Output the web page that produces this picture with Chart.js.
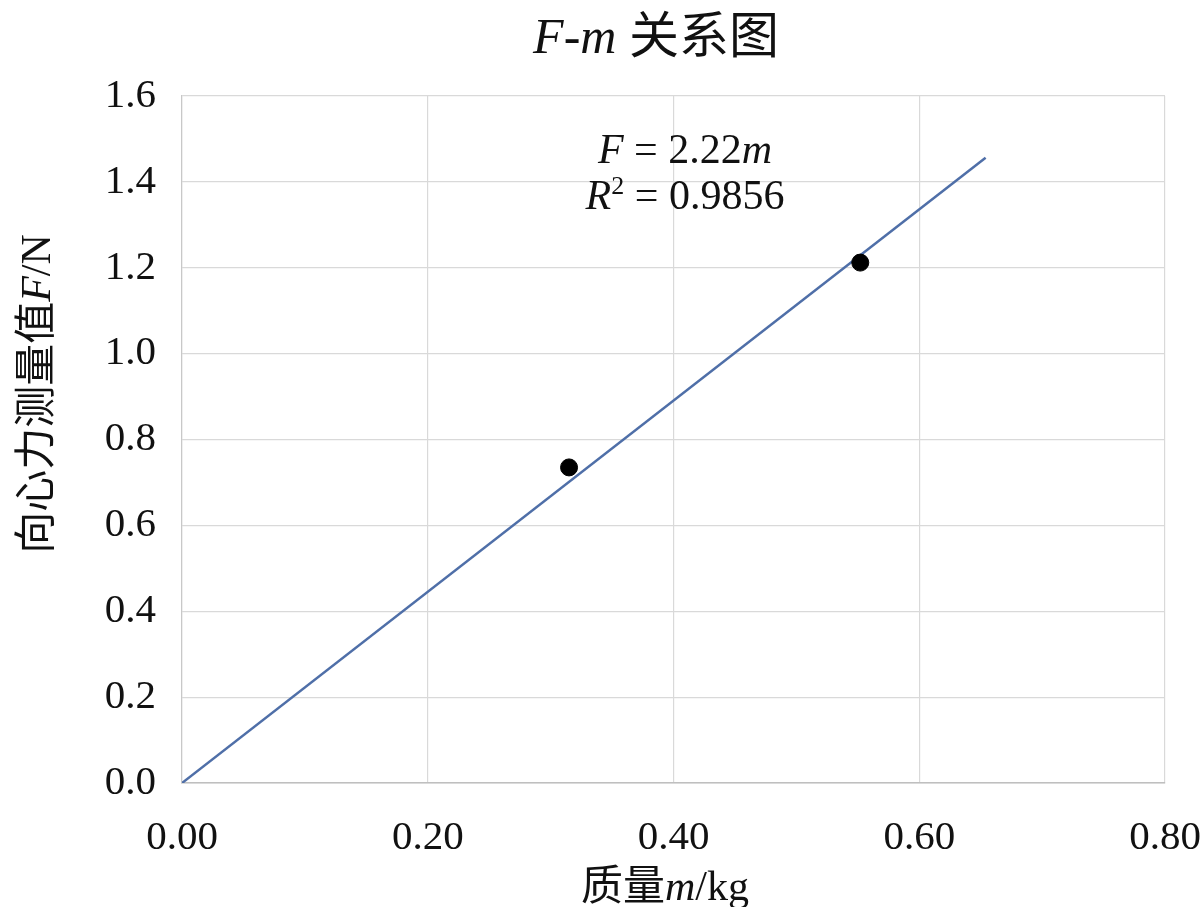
<!DOCTYPE html>
<html lang="zh">
<head>
  <meta charset="UTF-8">
  <title>F-m 关系图</title>
  <script src="https://cdn.jsdelivr.net/npm/chart.js"></script>
  <style>
    html, body { margin: 0; padding: 0; background: #fff; }
    .wrap { width: 1202px; height: 907px; position: relative; }
  </style>
</head>
<body>
  <div class="wrap"><canvas id="fmChart"></canvas></div>

  <script>
    // measured points (mass in kg, force in N)
    const massM = [0.315, 0.552];
    const forceF = [0.735, 1.212];
    // fitted trend line F = 2.22m, ends
    const trendM = [0, 0.654];
    const trendF = [0, 1.456];

    const xTicks = [0.0, 0.2, 0.4, 0.6, 0.8];
    const yTicks = [0.0, 0.2, 0.4, 0.6, 0.8, 1.0, 1.2, 1.4, 1.6];

    // text runs: n = normal, i = italic, sup = superscript
    const chartTitle = [['F-m', 'i'], [' 关系图', 'n']];
    const xTitle = [['质量', 'n'], ['m', 'i'], ['/kg', 'n']];
    const yTitle = [['向心力测量值', 'n'], ['F', 'i'], ['/N', 'n']];
    const eqLine1 = [['F', 'i'], [' = 2.22', 'n'], ['m', 'i']];
    const eqLine2 = [['R', 'i'], ['2', 'sup'], [' = 0.9856', 'n']];

    const FONT = '"Liberation Serif", "Noto Sans CJK SC", serif';

    function runFont(style, size) {
      if (style === 'i') return 'italic ' + size + 'px ' + FONT;
      if (style === 'sup') return Math.round(size * 0.62) + 'px ' + FONT;
      return size + 'px ' + FONT;
    }

    // draw a row of mixed-style text centred on cx, baseline at y
    function drawRuns(ctx, runs, cx, y, size) {
      let total = 0;
      const widths = runs.map(r => {
        ctx.font = runFont(r[1], size);
        const w = ctx.measureText(r[0]).width;
        total += w;
        return w;
      });
      let x = cx - total / 2;
      runs.forEach((r, i) => {
        ctx.font = runFont(r[1], size);
        const dy = r[1] === 'sup' ? -size * 0.36 : 0;
        ctx.fillText(r[0], x, y + dy);
        x += widths[i];
      });
    }

    const textPlugin = {
      id: 'mixedText',
      afterDraw(chart) {
        const ctx = chart.ctx;
        ctx.save();
        ctx.fillStyle = '#111';
        ctx.textAlign = 'left';
        ctx.textBaseline = 'alphabetic';

        drawRuns(ctx, chartTitle, 656, 53, 50);
        drawRuns(ctx, eqLine1, 685, 163, 42);
        drawRuns(ctx, eqLine2, 685, 209, 42);
        drawRuns(ctx, xTitle, 665, 900, 42);

        ctx.translate(50, 394);
        ctx.rotate(-Math.PI / 2);
        drawRuns(ctx, yTitle, 0, 0, 42);
        ctx.restore();
      }
    };

    const tickFont = { family: FONT, size: 41 };

    new Chart(document.getElementById('fmChart'), {
      type: 'scatter',
      data: {
        datasets: [
          {
            label: '测量值',
            data: massM.map((m, i) => ({ x: m, y: forceF[i] })),
            backgroundColor: '#000',
            borderColor: '#000',
            pointRadius: 8.5,
            order: 1
          },
          {
            label: '线性拟合',
            data: trendM.map((m, i) => ({ x: m, y: trendF[i] })),
            showLine: true,
            borderColor: '#4f6fa8',
            borderWidth: 2.5,
            pointRadius: 0,
            order: 2
          }
        ]
      },
      options: {
        responsive: true,
        maintainAspectRatio: false,
        animation: false,
        layout: { padding: { top: 96, right: 37, left: 0, bottom: 0 } },
        plugins: {
          legend: { display: false },
          tooltip: { enabled: false },
          title: { display: false }
        },
        scales: {
          x: {
            type: 'linear',
            min: 0, max: 0.8,
            afterBuildTicks: s => { s.ticks = xTicks.map(v => ({ value: v })); },
            afterFit: s => { s.height = 124; s.paddingLeft = 0; s.paddingRight = 0; },
            grid: { color: '#d9d9d9', lineWidth: 1.2, drawTicks: false },
            border: { color: '#bfbfbf', width: 1.5 },
            ticks: {
              font: tickFont, color: '#111', padding: 31, maxRotation: 0,
              callback: v => v.toFixed(2)
            }
          },
          y: {
            type: 'linear',
            min: 0, max: 1.6,
            afterBuildTicks: s => { s.ticks = yTicks.map(v => ({ value: v })); },
            afterFit: s => { s.width = 182; s.paddingTop = 0; s.paddingBottom = 0; },
            grid: { color: '#d9d9d9', lineWidth: 1.2, drawTicks: false },
            border: { color: '#c8c8c8', width: 1.2 },
            ticks: {
              font: tickFont, color: '#111', padding: 26,
              callback: v => v.toFixed(1)
            }
          }
        }
      },
      plugins: [textPlugin]
    });
  </script>
</body>
</html>
